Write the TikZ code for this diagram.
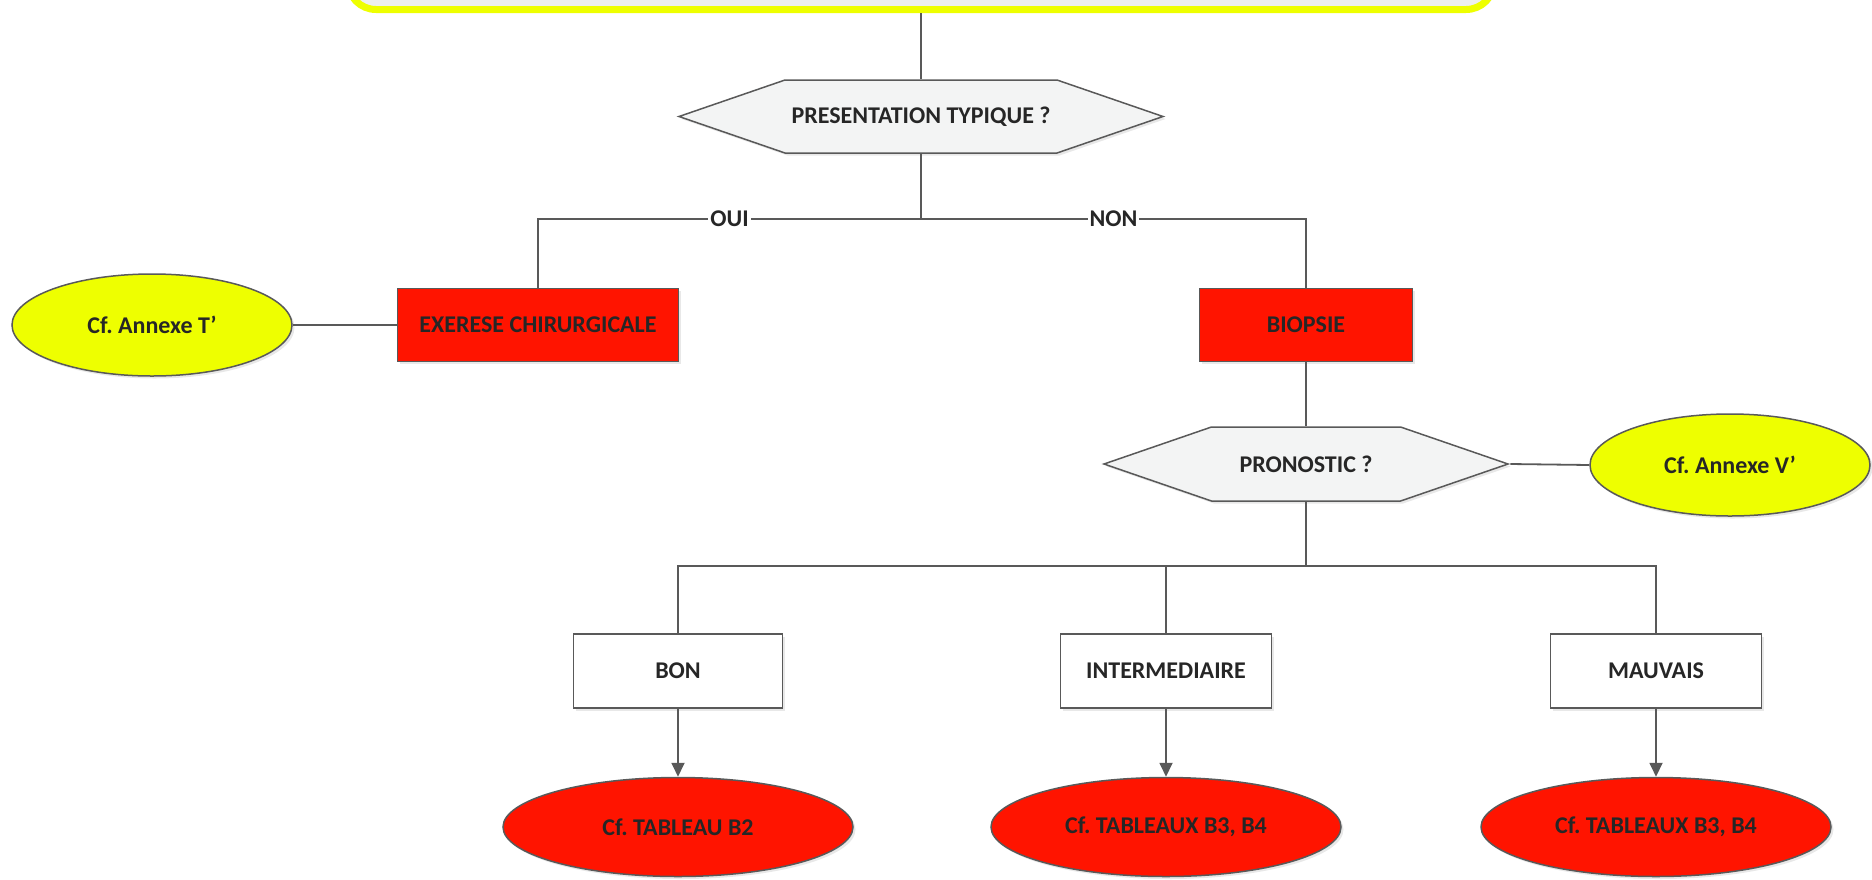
\documentclass[tikz,border=0pt]{standalone}
\usepackage{fontspec}
\setmainfont{Carlito}
\usetikzlibrary{shapes.geometric,shapes.symbols,arrows.meta,shadows}
\definecolor{rouge}{HTML}{FF1400}
\definecolor{jaune}{HTML}{EEFF00}
\definecolor{trait}{HTML}{595959}
\definecolor{texte}{HTML}{262626}
\definecolor{gris}{HTML}{F3F4F4}
\definecolor{fond}{HTML}{EDEFEF}
\frenchspacing
\begin{document}
\begin{tikzpicture}[x = 1pt, y = -1pt,
            every node/.style = {font = \fontsize{24}{27}\selectfont\bfseries, text = texte},
            ombre/.style = {drop shadow = {shadow xshift = 2.5pt, shadow yshift = -2.5pt, fill = black!18}},
            boite/.style = {draw = trait, line width = 1.5pt, inner sep = 0pt, minimum height = 73pt, ombre},
            bulle/.style = {ellipse, draw = trait, line width = 1.5pt, inner sep = 0pt, ombre},
            question/.style = {signal, signal to = west and east, signal pointer angle = 38, draw = trait, line width = 1.5pt, fill = gris, inner sep = 0pt, minimum height = 73pt, ombre},
            lien/.style = {draw = trait, line width = 1.8pt},
            etiquette/.style = {fill = white, inner sep = 2pt}]
            \useasboundingbox (0,0) rectangle (1872,879);
            \node[draw = jaune, line width = 7pt, fill = fond, rounded corners = 28pt, minimum width = 1146pt, minimum height = 140pt, anchor = south, ombre] (cas) at (921,13) {};
            \node[question, minimum width = 484pt] (q1) at (921,116.5) {PRESENTATION TYPIQUE ?};
            \node[boite, fill = rouge, minimum width = 281pt] (exer) at (538,325) {EXERESE CHIRURGICALE};
            \node[bulle, fill = jaune, minimum width = 280pt, minimum height = 102pt] (annT) at (152,325) {Cf. Annexe T’};
            \node[boite, fill = rouge, minimum width = 213pt] (biop) at (1306,325) {BIOPSIE};
            \node[question, minimum width = 404pt, minimum height = 74pt] (q2) at (1306,464) {PRONOSTIC ?};
            \node[bulle, fill = jaune, minimum width = 280pt, minimum height = 102pt] (annV) at (1730,465) {Cf. Annexe V’};
            \node[boite, fill = white, minimum width = 209pt, minimum height = 74pt] (bon) at (678,671) {BON};
            \node[boite, fill = white, minimum width = 211pt, minimum height = 74pt] (inter) at (1166,671) {INTERMEDIAIRE};
            \node[boite, fill = white, minimum width = 211pt, minimum height = 74pt] (mauv) at (1656,671) {MAUVAIS};
            \node[bulle, fill = rouge, minimum width = 350pt, minimum height = 99pt] (tb2) at (678,827) {Cf. TABLEAU B2};
            \node[bulle, fill = rouge, minimum width = 350pt, minimum height = 99pt] (tb34a) at (1166,827) {Cf. TABLEAUX B3, B4};
            \node[bulle, fill = rouge, minimum width = 350pt, minimum height = 99pt] (tb34b) at (1656,827) {Cf. TABLEAUX B3, B4};
            \coordinate (s1) at (921,219);
            \coordinate (s2) at (1306,566);
            \draw[lien] (cas.south) -- (q1.north);
            \draw[lien] (q1.south) -- (s1);
            \draw[lien] (s1) -| node[etiquette, pos = 0.25] {OUI} (exer.north);
            \draw[lien] (s1) -| node[etiquette, pos = 0.25] {NON} (biop.north);
            \draw[lien] (annT.east) -- (exer.west);
            \draw[lien] (biop.south) -- (q2.north);
            \draw[lien] (q2.east) -- (annV.west);
            \draw[lien] (q2.south) -- (s2);
            \draw[lien] (s2) -| (bon.north);
            \draw[lien] (s2) -| (inter.north);
            \draw[lien] (s2) -| (mauv.north);
            \draw[lien, -{Triangle[length = 14pt, width = 13pt]}] (bon) -- (tb2);
            \draw[lien, -{Triangle[length = 14pt, width = 13pt]}] (inter) -- (tb34a);
            \draw[lien, -{Triangle[length = 14pt, width = 13pt]}] (mauv) -- (tb34b);
        \end{tikzpicture}
\end{document}
